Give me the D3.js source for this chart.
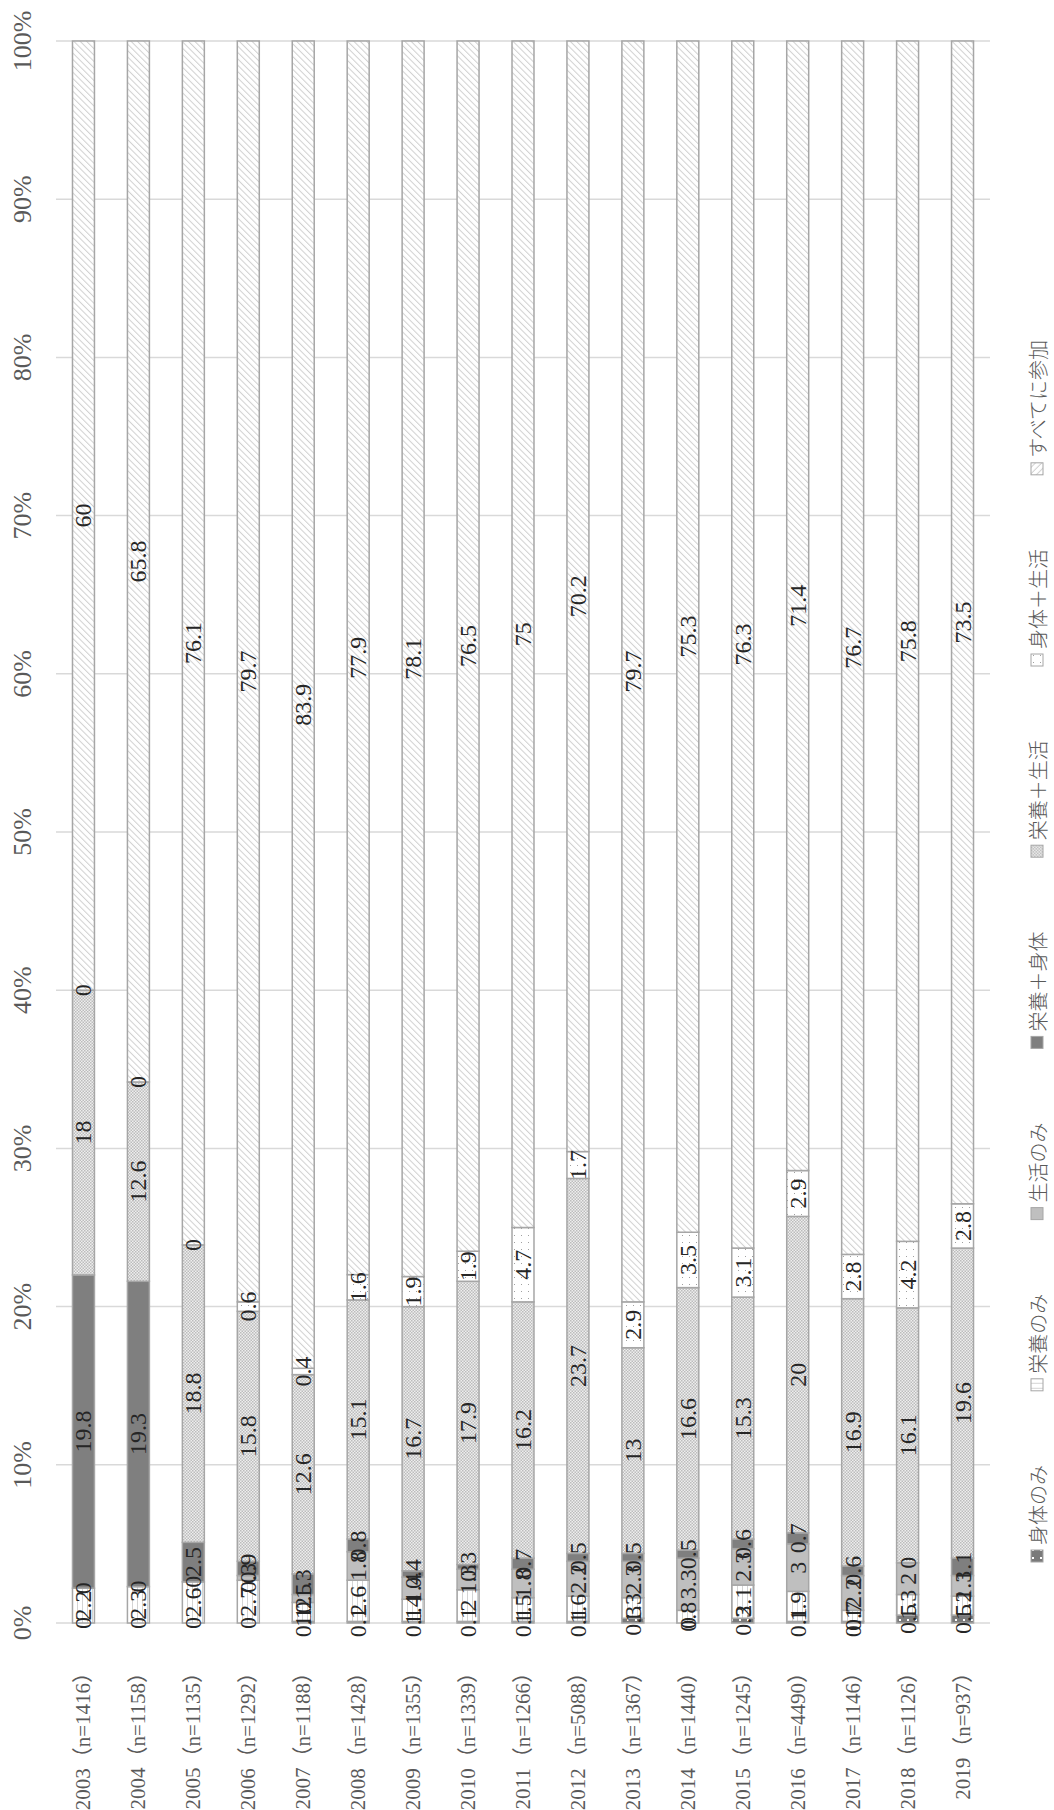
<!DOCTYPE html>
<html><head><meta charset="utf-8">
<script src="https://cdn.jsdelivr.net/npm/d3@7"></script>
<style>body{margin:0;background:#fff} svg{display:block}</style>
</head><body><svg id="c" width="1054" height="1810"></svg>
<script>
const years = ["2003","2004","2005","2006","2007","2008","2009","2010","2011","2012","2013","2014","2015","2016","2017","2018","2019"];
const nValues = [1416,1158,1135,1292,1188,1428,1355,1339,1266,5088,1367,1440,1245,4490,1146,1126,937];
const seriesNames = ["身体のみ","栄養のみ","生活のみ","栄養＋身体","栄養＋生活","身体＋生活","すべてに参加"];
const shintaiOnly     = [0,0,0,0,0.1,0.1,0.1,0.1,0.1,0.1,0.3,0,0.3,0.1,0.1,0.5,0.5];
const eiyoOnly        = [2.2,2.3,2.6,2.7,1.2,2.6,1.4,2.0,1.5,1.6,1.3,0.8,2.1,1.9,0.7,1.3,1.2];
const seikatsuOnly    = [0,0,0,0.3,0.5,1.8,1.4,1.3,1.8,2.2,2.3,3.3,2.3,3.0,2.2,2.0,1.3];
const eiyoShintai     = [19.8,19.3,2.5,0.9,1.3,0.8,0.4,0.3,0.7,0.5,0.5,0.5,0.6,0.7,0.6,0,1.1];
const eiyoSeikatsu    = [18,12.6,18.8,15.8,12.6,15.1,16.7,17.9,16.2,23.7,13,16.6,15.3,20,16.9,16.1,19.6];
const shintaiSeikatsu = [0,0,0,0.6,0.4,1.6,1.9,1.9,4.7,1.7,2.9,3.5,3.1,2.9,2.8,4.2,2.8];
const allThree        = [60,65.8,76.1,79.7,83.9,77.9,78.1,76.5,75,70.2,79.7,75.3,76.3,71.4,76.7,75.8,73.5];
const yTickLabels = ["0%","10%","20%","30%","40%","50%","60%","70%","80%","90%","100%"];

const seriesValues = [shintaiOnly, eiyoOnly, seikatsuOnly, eiyoShintai, eiyoSeikatsu, shintaiSeikatsu, allThree];
const fills = ["url(#pShintai)","url(#pEiyo)","#bfbfbf","#7f7f7f","url(#pChecker)","url(#pDots)","url(#pHatch)"];

const svg = d3.select("#c");
const defs = svg.append("defs");
// すべてに参加: diagonal hatch
let p = defs.append("pattern").attr("id","pHatch").attr("patternUnits","userSpaceOnUse")
  .attr("width",4.5).attr("height",4.5).attr("patternTransform","rotate(-45)");
p.append("rect").attr("width",4.5).attr("height",4.5).attr("fill","#fff");
p.append("line").attr("x1",0.5).attr("y1",0).attr("x2",0.5).attr("y2",4.5).attr("stroke","#d0d0d0").attr("stroke-width",1);
// 栄養＋生活: checker
p = defs.append("pattern").attr("id","pChecker").attr("patternUnits","userSpaceOnUse").attr("width",3).attr("height",3);
p.append("rect").attr("width",3).attr("height",3).attr("fill","#eeeeee");
p.append("rect").attr("width",1.5).attr("height",1.5).attr("fill","#bcbcbc");
p.append("rect").attr("x",1.5).attr("y",1.5).attr("width",1.5).attr("height",1.5).attr("fill","#bcbcbc");
// 身体のみ: dark with white dots
p = defs.append("pattern").attr("id","pShintai").attr("patternUnits","userSpaceOnUse").attr("width",8).attr("height",8);
p.append("rect").attr("width",8).attr("height",8).attr("fill","#7a7a7a");
p.append("rect").attr("x",3).attr("y",3).attr("width",2).attr("height",2).attr("fill","#fff");
// 栄養のみ: white with vertical lines
p = defs.append("pattern").attr("id","pEiyo").attr("patternUnits","userSpaceOnUse").attr("width",5).attr("height",5);
p.append("rect").attr("width",5).attr("height",5).attr("fill","#fff");
p.append("rect").attr("x",2).attr("width",1).attr("height",5).attr("fill","#d4d4d4");
// 身体＋生活: white with sparse dots
p = defs.append("pattern").attr("id","pDots").attr("patternUnits","userSpaceOnUse").attr("width",7).attr("height",7);
p.append("rect").attr("width",7).attr("height",7).attr("fill","#fff");
p.append("rect").attr("x",3).attr("y",3).attr("width",1).attr("height",1).attr("fill","#a0a0a0");

const plotLeft = 56, plotRight = 990, plotTop = 41, plotBottom = 1623;
const x = d3.scaleBand().domain(years).range([plotLeft, plotRight]).paddingInner(0.6).paddingOuter(0.3);
const y = d3.scaleLinear().domain([0,1]).range([plotBottom, plotTop]);

const rows = years.map((yr,i) => {
  const r = {year: yr};
  seriesNames.forEach((s,k) => r[s] = seriesValues[k][i]);
  return r;
});
const stacked = d3.stack().keys(seriesNames).offset(d3.stackOffsetExpand)(rows);

// gridlines
svg.append("g").selectAll("line").data(yTickLabels).join("line")
  .attr("x1",plotLeft).attr("x2",plotRight)
  .attr("y1",(d,i)=>y(i/10)).attr("y2",(d,i)=>y(i/10))
  .attr("stroke","#d9d9d9").attr("stroke-width",1.5);

// percent axis labels
svg.append("g").selectAll("text").data(yTickLabels).join("text")
  .attr("transform",(d,i)=>`translate(22,${y(i/10)}) rotate(-90)`)
  .attr("text-anchor","middle").attr("dominant-baseline","central")
  .attr("font-family","'Liberation Serif', serif").attr("font-size",26)
  .attr("fill","#595959").text(d=>d);

// bars
const gBars = svg.append("g");
stacked.forEach((layer,k) => {
  gBars.append("g").selectAll("rect").data(layer).join("rect")
    .attr("x",d=>x(d.data.year)).attr("width",x.bandwidth())
    .attr("y",d=>y(d[1])).attr("height",d=>Math.max(0,y(d[0])-y(d[1])))
    .attr("fill",fills[k]).attr("stroke","#a6a6a6").attr("stroke-width",1.5);
});

// data labels
const gLab = svg.append("g");
stacked.forEach((layer,k) => {
  gLab.append("g").selectAll("text").data(layer).join("text")
    .attr("transform",d=>`translate(${x(d.data.year)+x.bandwidth()/2},${y((d[0]+d[1])/2)}) rotate(-90)`)
    .attr("text-anchor","middle").attr("dominant-baseline","central")
    .attr("font-family","'Liberation Serif', serif").attr("font-size",24)
    .attr("fill","#262626").text(d=>String(d.data[seriesNames[k]]));
});

// category labels
svg.append("g").selectAll("text").data(years).join("text")
  .attr("transform",(d)=>`translate(${x(d)+x.bandwidth()/2},1662) rotate(-90)`)
  .attr("text-anchor","end").attr("dominant-baseline","central")
  .attr("font-family","'Liberation Serif', 'Noto Sans CJK JP', serif").attr("font-size",21)
  .attr("fill","#595959").text((d,i)=>`${d}（n=${nValues[i]}）`);

// legend (rotated)
const legBottom = 1562, legTop = 340;
const gLeg = svg.append("g").attr("transform",`translate(1037,${legBottom}) rotate(-90)`);
const items = seriesNames.map((s,k)=>{
  const g = gLeg.append("g");
  g.append("rect").attr("x",0).attr("y",-6).attr("width",12).attr("height",12)
    .attr("fill",fills[k]).attr("stroke","#a6a6a6").attr("stroke-width",1);
  const t = g.append("text").attr("x",17).attr("y",0).attr("dominant-baseline","central")
    .attr("font-family","'Noto Sans CJK JP', sans-serif").attr("font-size",20).attr("font-weight",300)
    .attr("fill","#595959").text(s);
  return {g, w: 17 + t.node().getComputedTextLength()};
});
const totalW = d3.sum(items, d=>d.w);
const gap = (legBottom - legTop - totalW) / (items.length - 1);
let cx = 0;
items.forEach(it => { it.g.attr("transform",`translate(${cx},0)`); cx += it.w + gap; });
</script>
</body></html>
